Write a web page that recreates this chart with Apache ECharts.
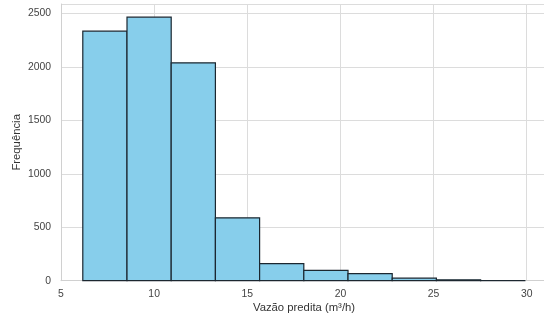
<!DOCTYPE html>
<html>
<head>
<meta charset="utf-8">
<script src="https://cdn.jsdelivr.net/npm/echarts@6/dist/echarts.min.js"></script>
<style>
html,body{margin:0;padding:0;background:#fff;}
#chart{width:544px;height:322px;}
</style>
</head>
<body>
<div id="chart"></div>
<script>
// Histogram bin edges (m³/h) and counts
const binEdges = [6.17, 8.543, 10.916, 13.289, 15.662, 18.035, 20.408, 22.781, 25.154, 27.527, 29.9];
const counts = [2334, 2465, 2038, 588, 159, 97, 66, 24, 9, 1];
const xTicks = [5, 10, 15, 20, 25, 30];
const yTicks = [0, 500, 1000, 1500, 2000, 2500];
const xLabel = 'Vazão predita (m³/h)';
const yLabel = 'Frequência';

const data = counts.map((c, i) => [binEdges[i], binEdges[i + 1], c]);

const chart = echarts.init(document.getElementById('chart'), null, {renderer: 'canvas'});
const font = 'Liberation Sans, Arial, sans-serif';
chart.setOption({
  animation: false,
  grid: {left: 61, top: 4, width: 486, bottom: 41.3, outerBoundsMode: 'none', containLabel: false},
  xAxis: {
    type: 'value', min: 5, max: 31.09, interval: 5,
    name: xLabel, nameLocation: 'middle', nameGap: 22, nameMoveOverlap: false,
    nameTextStyle: {fontFamily: font, fontSize: 11.3, color: '#333'},
    axisLine: {show: true, onZero: false, lineStyle: {color: '#d0d0d0', width: 1}},
    axisTick: {show: false},
    axisLabel: {fontFamily: font, fontSize: 10.4, color: '#444', margin: 8, showMaxLabel: false,
      formatter: v => xTicks.includes(v) ? String(v) : ''},
    splitLine: {show: true, lineStyle: {color: '#dcdcdc', width: 1}}
  },
  yAxis: {
    type: 'value', min: 0, max: 2588, interval: 500,
    name: yLabel, nameLocation: 'middle', nameGap: 39, nameMoveOverlap: false,
    nameTextStyle: {fontFamily: font, fontSize: 11.3, color: '#333'},
    axisLine: {show: true, lineStyle: {color: '#d0d0d0', width: 1}},
    axisTick: {show: false},
    axisLabel: {fontFamily: font, fontSize: 10.4, color: '#444', margin: 10, showMaxLabel: false,
      formatter: v => yTicks.includes(v) ? String(v) : ''},
    splitLine: {show: true, lineStyle: {color: '#dcdcdc', width: 1}}
  },
  series: [{
    type: 'custom',
    data: data,
    encode: {x: [0, 1], y: 2},
    renderItem: function (params, api) {
      const p0 = api.coord([api.value(0), 0]);
      const p1 = api.coord([api.value(1), api.value(2)]);
      return {
        type: 'rect',
        shape: {x: p0[0], y: p1[1], width: p1[0] - p0[0], height: p0[1] - p1[1]},
        style: {fill: '#87CEEB', stroke: '#1c2730', lineWidth: 1.2}
      };
    }
  }]
});
</script>
</body>
</html>
